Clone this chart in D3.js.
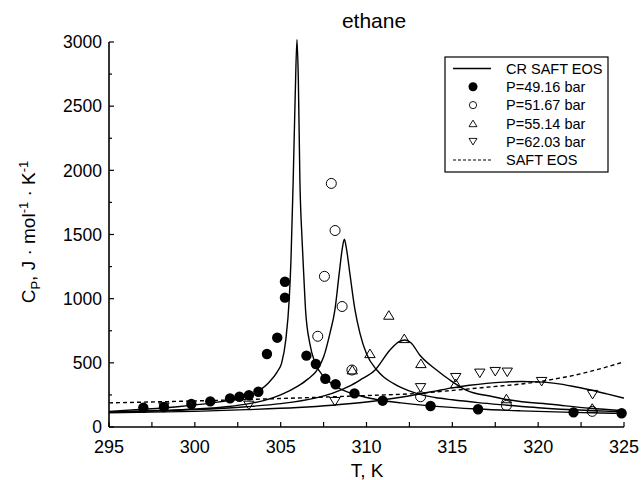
<!DOCTYPE html>
<html>
<head>
<meta charset="utf-8">
<script src="https://cdn.jsdelivr.net/npm/d3@7/dist/d3.min.js"></script>
<style>
  html, body { margin: 0; padding: 0; background: #fff; }
  svg text { font-family: "Liberation Sans", Arial, Helvetica, sans-serif; fill: #000; }
</style>
</head>
<body>
<svg id="chart" width="644" height="480"></svg>
<script>
// Ethane isobaric heat capacity near the critical point.
// Measured points (T in K, Cp in J/mol/K) for four pressures.
const p4916T  = [297.0, 298.2, 299.8, 300.9, 302.05, 302.6, 303.15, 303.7, 304.2, 304.8, 305.25, 305.25, 306.5, 307.05, 307.6, 308.2, 309.3, 310.94, 313.73, 316.5, 322.06, 324.86];
const p4916Cp = [150, 156, 179, 200, 223, 236, 247, 275, 569, 696, 1008, 1132, 556, 491, 376, 333, 262, 205, 164, 138, 114, 107];

const p5167T  = [307.95, 308.17, 307.55, 308.58, 307.16, 309.15, 313.15, 318.15, 323.15];
const p5167Cp = [1898, 1531, 1174, 939, 707, 444, 236, 168, 122];

const p5514T  = [309.17, 310.2, 311.3, 312.2, 313.17, 315.2, 318.15, 323.15];
const p5514Cp = [447, 574, 873, 691, 496, 340, 222, 148];

const p6203T  = [298.2, 303.15, 308.16, 313.15, 315.2, 316.6, 317.5, 318.2, 320.2, 323.17];
const p6203Cp = [155, 168, 197, 305, 384, 418, 431, 426, 353, 252];

// CR SAFT EOS curves, one per pressure
const cr4916T  = [295, 297, 299, 301, 302.5, 303.5, 304.3, 304.8, 305.06, 305.3, 305.5, 305.6, 305.73, 305.85, 305.95, 306.03, 306.12, 306.25, 306.36, 306.45, 306.7, 307.0, 307.5, 308.0, 308.5, 309.3, 310, 311, 312, 313.7, 316.5, 319, 322, 325];
const cr4916Cp = [122, 138, 158, 188, 222, 265, 345, 430, 500, 680, 1000, 1300, 1925, 2600, 3020, 2700, 1925, 1450, 1145, 912, 650, 500, 395, 335, 295, 255, 230, 205, 188, 165, 140, 126, 114, 106];

const cr5167T  = [295, 298, 300, 302, 303, 304, 305, 306, 306.6, 307.1, 307.5, 307.87, 308.16, 308.41, 308.6, 308.71, 308.82, 309.03, 309.33, 309.62, 310, 310.6, 311, 311.56, 312, 313, 314, 315, 316.5, 318.2, 320, 323, 325];
const cr5167Cp = [116, 128, 140, 160, 178, 205, 250, 318, 375, 440, 545, 730, 912, 1197, 1400, 1463, 1400, 1197, 912, 730, 570, 444, 390, 340, 308, 258, 230, 212, 190, 170, 150, 128, 118];

const cr5514T  = [295, 300, 303, 305, 307, 308, 309, 309.62, 310.5, 311.37, 311.9, 312.24, 312.6, 313.1, 314.08, 314.86, 315.8, 317.38, 318.35, 320.9, 323, 325];
const cr5514Cp = [116, 135, 158, 182, 225, 262, 318, 366, 444, 600, 665, 678, 655, 561, 444, 366, 288, 236, 210, 175, 146, 127];

const cr6203T  = [295, 300, 303, 306, 308, 310, 311, 312, 313, 314, 315, 316, 317, 318, 319, 320, 321, 322, 323, 324, 325];
const cr6203Cp = [110, 122, 135, 152, 170, 195, 212, 232, 255, 280, 305, 325, 340, 350, 355, 352, 340, 318, 290, 258, 225];

// Plain SAFT EOS
const saftT  = [295, 300, 305, 310, 313, 315, 317, 319, 320, 321, 322, 323, 324, 325];
const saftCp = [188, 203, 222, 245, 262, 285, 310, 335, 352, 375, 400, 432, 468, 508];

const xTicks = [295, 300, 305, 310, 315, 320, 325];
const yTicks = [0, 500, 1000, 1500, 2000, 2500, 3000];
const legendLabels = ["CR SAFT EOS", "P=49.16 bar", "P=51.67 bar", "P=55.14 bar", "P=62.03 bar", "SAFT EOS"];

const svg = d3.select("#chart");
const x = d3.scaleLinear().domain([295, 325]).range([109, 624]);
const y = d3.scaleLinear().domain([0, 3000]).range([427, 42]);

const zip = (a, b) => a.map((v, i) => [v, b[i]]);
const line = d3.line().x(d => x(d[0])).y(d => y(d[1])).curve(d3.curveMonotoneX);

// curves
const curves = [[cr4916T, cr4916Cp], [cr5167T, cr5167Cp], [cr5514T, cr5514Cp], [cr6203T, cr6203Cp]];
svg.append("g").selectAll("path").data(curves).join("path")
  .attr("d", c => line(zip(c[0], c[1])))
  .attr("fill", "none").attr("stroke", "#000").attr("stroke-width", 1.4);

svg.append("path").attr("d", line(zip(saftT, saftCp)))
  .attr("fill", "none").attr("stroke", "#000").attr("stroke-width", 1.4)
  .attr("stroke-dasharray", "4,3");

// axes with inward ticks
const xAxis = svg.append("g").attr("transform", "translate(0,427)");
xAxis.append("line").attr("x1", 109).attr("x2", 624).attr("stroke", "#000").attr("stroke-width", 1.6);
xAxis.selectAll("line.tk").data(d3.range(295, 325.01, 2.5)).join("line").attr("class", "tk")
  .attr("x1", d => x(d)).attr("x2", d => x(d)).attr("y1", 0).attr("y2", -5)
  .attr("stroke", "#000").attr("stroke-width", 1.2);
xAxis.selectAll("text").data(xTicks).join("text")
  .attr("x", d => x(d)).attr("y", 26).attr("text-anchor", "middle")
  .style("font-size", "18px").text(d => d);

const yAxis = svg.append("g").attr("transform", "translate(109,0)");
yAxis.append("line").attr("y1", 427).attr("y2", 42).attr("stroke", "#000").attr("stroke-width", 1.6);
yAxis.selectAll("line.tk").data(d3.range(0, 3000.1, 250)).join("line").attr("class", "tk")
  .attr("y1", d => y(d)).attr("y2", d => y(d)).attr("x1", 0).attr("x2", d => d % 500 === 0 ? 5 : 3)
  .attr("stroke", "#000").attr("stroke-width", 1.2);
yAxis.selectAll("text").data(yTicks).join("text")
  .attr("x", -7).attr("y", d => y(d)).attr("dy", "0.36em").attr("text-anchor", "end")
  .style("font-size", "17.5px").text(d => d);

// axis titles
svg.append("text").attr("x", 367).attr("y", 477).attr("text-anchor", "middle")
  .style("font-size", "19px").text("T, K");

const yl = svg.append("text").attr("transform", "translate(35,232) rotate(-90)")
  .attr("text-anchor", "middle").style("font-size", "19px");
yl.append("tspan").text("C");
yl.append("tspan").attr("dy", 5).style("font-size", "13px").text("P");
yl.append("tspan").attr("dy", -5).text(", J · mol");
yl.append("tspan").attr("dy", -7).style("font-size", "13px").text("-1");
yl.append("tspan").attr("dy", 7).text(" · K");
yl.append("tspan").attr("dy", -7).style("font-size", "13px").text("-1");

svg.append("text").attr("x", 374).attr("y", 28).attr("text-anchor", "middle")
  .style("font-size", "21px").text("ethane");

// marker shapes
const triUp = (s) => `M0,${-s * 0.82}L${s},${s * 0.82}L${-s},${s * 0.82}Z`;
const triDown = (s) => `M0,${s * 0.82}L${s},${-s * 0.82}L${-s},${-s * 0.82}Z`;

const markers = svg.append("g");
markers.selectAll("path.tu").data(zip(p5514T, p5514Cp)).join("path").attr("class", "tu")
  .attr("transform", d => `translate(${x(d[0])},${y(d[1])})`).attr("d", triUp(5.2))
  .attr("fill", "none").attr("stroke", "#000").attr("stroke-width", 1);
markers.selectAll("path.td").data(zip(p6203T, p6203Cp)).join("path").attr("class", "td")
  .attr("transform", d => `translate(${x(d[0])},${y(d[1])})`).attr("d", triDown(5.2))
  .attr("fill", "none").attr("stroke", "#000").attr("stroke-width", 1);
markers.selectAll("circle.oc").data(zip(p5167T, p5167Cp)).join("circle").attr("class", "oc")
  .attr("cx", d => x(d[0])).attr("cy", d => y(d[1])).attr("r", 5)
  .attr("fill", "none").attr("stroke", "#000").attr("stroke-width", 1);
markers.selectAll("circle.fc").data(zip(p4916T, p4916Cp)).join("circle").attr("class", "fc")
  .attr("cx", d => x(d[0])).attr("cy", d => y(d[1])).attr("r", 5.2)
  .attr("fill", "#000");

// legend
const lg = svg.append("g");
lg.append("rect").attr("x", 445).attr("y", 57).attr("width", 163).attr("height", 115)
  .attr("fill", "#fff").attr("stroke", "#000").attr("stroke-width", 1.2);
const rowY = i => 68.5 + i * 18.3;
lg.selectAll("text").data(legendLabels).join("text")
  .attr("x", 506).attr("y", (d, i) => rowY(i)).attr("dy", "0.36em")
  .style("font-size", "14.5px").text(d => d);
lg.append("line").attr("x1", 453).attr("x2", 491).attr("y1", rowY(0)).attr("y2", rowY(0))
  .attr("stroke", "#000").attr("stroke-width", 1.4);
lg.append("line").attr("x1", 453).attr("x2", 491).attr("y1", rowY(5)).attr("y2", rowY(5))
  .attr("stroke", "#000").attr("stroke-width", 1.2).attr("stroke-dasharray", "3,2");
lg.append("circle").attr("cx", 473).attr("cy", rowY(1)).attr("r", 4.5).attr("fill", "#000");
lg.append("circle").attr("cx", 473).attr("cy", rowY(2)).attr("r", 3.6)
  .attr("fill", "none").attr("stroke", "#000").attr("stroke-width", 0.9);
lg.append("path").attr("transform", `translate(473,${rowY(3)})`).attr("d", triUp(4))
  .attr("fill", "none").attr("stroke", "#000").attr("stroke-width", 0.9);
lg.append("path").attr("transform", `translate(473,${rowY(4)})`).attr("d", triDown(4))
  .attr("fill", "none").attr("stroke", "#000").attr("stroke-width", 0.9);
</script>
</body>
</html>
